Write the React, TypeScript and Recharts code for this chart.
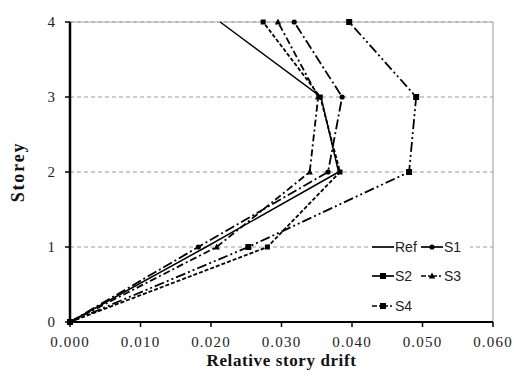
import React from 'react';
import { LineChart, Line, XAxis, YAxis, CartesianGrid, ReferenceLine } from 'recharts';

// storey levels and drift per scheme
const storeys = [0, 1, 2, 3, 4];
const refDrift = [0, 0.0193, 0.0381, 0.0356, 0.0213];
const s1Drift = [0, 0.0182, 0.0366, 0.0386, 0.0318];
const s2Drift = [0, 0.0253, 0.0481, 0.0491, 0.0396];
const s3Drift = [0, 0.0208, 0.034, 0.0352, 0.0295];
const s4Drift = [0, 0.028, 0.0383, 0.0355, 0.0274];

const xTicks = [0, 0.01, 0.02, 0.03, 0.04, 0.05, 0.06];
const yTicks = [0, 1, 2, 3, 4];

const data = storeys.map((s, i) => ({
  storey: s,
  ref: refDrift[i],
  s1: s1Drift[i],
  s2: s2Drift[i],
  s3: s3Drift[i],
  s4: s4Drift[i],
}));

const serif = '"Liberation Serif", "Times New Roman", serif';

const Square = (size: number) => (props: any) => {
  const { cx, cy, index } = props;
  return <rect key={`sq-${size}-${index}`} x={cx - size / 2} y={cy - size / 2} width={size} height={size} fill="#000" />;
};

const Circle = (props: any) => {
  const { cx, cy, index } = props;
  return <circle key={`c-${index}`} cx={cx} cy={cy} r={2.6} fill="#000" />;
};

const Triangle = (props: any) => {
  const { cx, cy, index } = props;
  return <path key={`t-${index}`} d={`M${cx},${cy - 3.5}L${cx + 3.2},${cy + 2.5}L${cx - 3.2},${cy + 2.5}Z`} fill="#000" />;
};

const dashes: Record<string, string | undefined> = {
  ref: undefined,
  s1: '10 3 2 3',
  s2: '10 3 2 3 2 3',
  s3: '7 3 2 3',
  s4: '4 2',
};

const LegendSample = ({ id }: { id: string }) => (
  <svg width={22} height={10} style={{ display: 'block' }}>
    <line x1={0} y1={5} x2={22} y2={5} stroke="#000" strokeWidth={1.7} strokeDasharray={id === 's3' || id === 's4' ? '5 2 2 2' : undefined} />
    {id === 's1' && <circle cx={11} cy={5} r={2.6} fill="#000" />}
    {(id === 's2' || id === 's4') && <rect x={8} y={2} width={6} height={6} fill="#000" />}
    {id === 's3' && <path d="M11,1.5L14.2,7.5L7.8,7.5Z" fill="#000" />}
  </svg>
);

const LegendItem = ({ id, label, left, top }: { id: string; label: string; left: number; top: number }) => (
  <div style={{ position: 'absolute', left, top, display: 'flex', alignItems: 'center', gap: 1 }}>
    <LegendSample id={id} />
    <span style={{ fontFamily: '"Liberation Sans", Arial, sans-serif', fontSize: 14, color: '#222', lineHeight: '16px' }}>{label}</span>
  </div>
);

export default function App() {
  return (
    <div style={{ position: 'absolute', left: 0, top: 0, width: 514, height: 376, background: '#fff' }}>
      <LineChart width={514} height={376} data={data} layout="vertical" margin={{ top: 22, right: 21, left: 0, bottom: 0 }}>
        <CartesianGrid vertical={false} stroke="#999" strokeDasharray="4 3" />
        <ReferenceLine y={4} stroke="#aaa" strokeWidth={1.2} />
        <ReferenceLine x={0.06} stroke="#aaa" strokeWidth={1.2} />
        <XAxis
          type="number"
          domain={[0, 0.06]}
          ticks={xTicks}
          tickFormatter={(v: number) => v.toFixed(3)}
          height={54}
          axisLine={{ stroke: '#000', strokeWidth: 2 }}
          tickLine={{ stroke: '#000', strokeWidth: 1.5 }}
          tickSize={5}
          tickMargin={9}
          tick={{ fontFamily: serif, fontSize: 15, fill: '#222', letterSpacing: 1.2 }}
          label={{
            value: 'Relative story drift',
            position: 'insideBottom',
            offset: 10,
            style: { fontFamily: serif, fontSize: 17, fontWeight: 'bold', fill: '#111', letterSpacing: 0.6 },
          }}
        />
        <YAxis
          type="number"
          dataKey="storey"
          domain={[0, 4]}
          ticks={yTicks}
          reversed
          width={70}
          axisLine={{ stroke: '#000', strokeWidth: 2.5 }}
          tickLine={{ stroke: '#000', strokeWidth: 1.5 }}
          tickSize={5}
          tickMargin={10}
          tick={{ fontFamily: serif, fontSize: 15, fill: '#222' }}
          label={{
            content: (p: any) => {
              const vb = p.viewBox || { y: 22, height: 300 };
              const cy = vb.y + vb.height / 2;
              return (
                <text
                  x={18}
                  y={cy}
                  transform={`rotate(-90, 18, ${cy})`}
                  textAnchor="middle"
                  dominantBaseline="central"
                  style={{ fontFamily: serif, fontSize: 18, fontWeight: 'bold', fill: '#111', letterSpacing: 1.8 }}
                >
                  Storey
                </text>
              );
            },
          }}
        />
        <Line dataKey="ref" stroke="#000" strokeWidth={1.5} dot={false} isAnimationActive={false} />
        <Line dataKey="s1" stroke="#000" strokeWidth={1.8} strokeDasharray={dashes.s1} dot={Circle} isAnimationActive={false} />
        <Line dataKey="s2" stroke="#000" strokeWidth={1.8} strokeDasharray={dashes.s2} dot={Square(6)} isAnimationActive={false} />
        <Line dataKey="s3" stroke="#000" strokeWidth={1.8} strokeDasharray={dashes.s3} dot={Triangle} isAnimationActive={false} />
        <Line dataKey="s4" stroke="#000" strokeWidth={1.8} strokeDasharray={dashes.s4} dot={Square(5)} isAnimationActive={false} />
      </LineChart>
      <div style={{ position: 'absolute', left: 368, top: 234, width: 102, height: 87, background: '#fff' }}>
        <LegendItem id="ref" label="Ref" left={4} top={5} />
        <LegendItem id="s1" label="S1" left={53} top={5} />
        <LegendItem id="s2" label="S2" left={4} top={34} />
        <LegendItem id="s3" label="S3" left={53} top={34} />
        <LegendItem id="s4" label="S4" left={4} top={64} />
      </div>
    </div>
  );
}
